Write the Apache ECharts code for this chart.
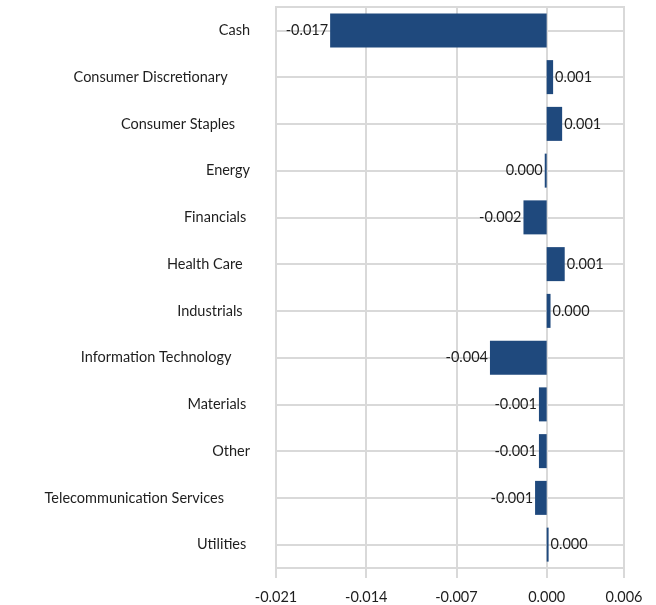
<!DOCTYPE html>
<html>
<head>
<meta charset="utf-8">
<script src="https://cdn.jsdelivr.net/npm/echarts@6/dist/echarts.min.js"></script>
<style>
html,body{margin:0;padding:0;background:#fff;}
#chart{width:656px;height:605px;}
</style>
</head>
<body>
<div id="chart"></div>
<script>
// Categories (original labels carry trailing spaces, as in the source sheet)
const categories = [
  "Cash",
  "Consumer Discretionary      ",
  "Consumer Staples    ",
  "Energy",
  "Financials ",
  "Health Care  ",
  "Industrials  ",
  "Information Technology     ",
  "Materials ",
  "Other",
  "Telecommunication Services       ",
  "Utilities "
];
const values = [
  -0.0168, 0.0005, 0.0012, -0.00015, -0.0018, 0.0014,
  0.0003, -0.0044, -0.0006, -0.0006, -0.0009, 0.00015
];
const xTicks = { min: -0.021, max: 0.006, interval: 0.007 };

function fmt(v) {
  let s = Number(v).toFixed(3);
  if (s === "-0.000") s = "0.000";
  return s;
}

const FONT = "Lato";
const FS = 14.5;
const TXT = "#1e1e1e";
const grey = "#d9d9d9";
const chart = echarts.init(document.getElementById("chart"));
chart.setOption({
  animation: false,
  backgroundColor: "#fff",
  grid: {
    left: 276, right: 32, top: 7, bottom: 37,
    show: true, borderColor: grey, borderWidth: 2, backgroundColor: "transparent"
  },
  xAxis: {
    type: "value",
    min: xTicks.min, max: xTicks.max, interval: xTicks.interval,
    axisLine: { show: false },
    axisTick: { show: true, length: 10, lineStyle: { color: grey, width: 2 } },
    splitLine: { show: true, lineStyle: { color: grey, width: 2 } },
    axisLabel: {
      margin: 22, color: TXT, fontFamily: FONT, fontSize: FS,
      formatter: fmt
    }
  },
  yAxis: {
    type: "category",
    inverse: true,
    data: categories,
    axisLine: { show: false },
    axisTick: { show: true, alignWithLabel: true, length: 10, lineStyle: { color: grey, width: 2 } },
    splitLine: { show: true, alignWithLabel: true, lineStyle: { color: grey, width: 2 } },
    axisLabel: { margin: 26, color: TXT, fontFamily: FONT, fontSize: FS }
  },
  series: [{
    type: "bar",
    barWidth: 34,
    itemStyle: { color: "#1f497d" },
    data: values.map(v => ({
      value: v,
      label: { position: v < 0 ? "left" : "right" }
    })),
    label: {
      show: true, distance: 2, color: TXT, fontFamily: FONT, fontSize: FS,
      formatter: p => fmt(p.value)
    }
  }]
});
</script>
</body>
</html>
